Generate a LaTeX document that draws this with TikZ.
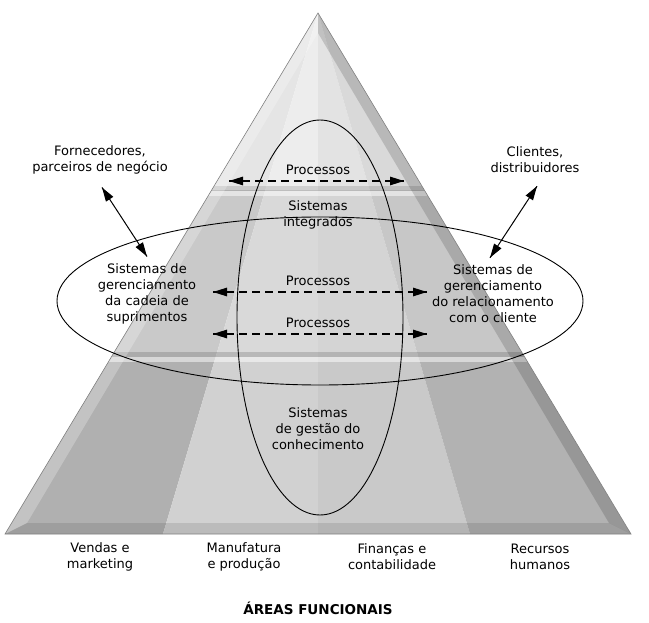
\documentclass[tikz,border=0pt]{standalone}
\usepackage{fontspec}
\setmainfont{DejaVu Sans}
\usetikzlibrary{calc,arrows.meta,decorations.markings}
\tikzset{<->/.style = {decoration={markings, mark=at position 0 with {\arrowreversed{Triangle[length=14pt,width=8.5pt]}}, mark=at position 1 with {\arrow{Triangle[length=14pt,width=8.5pt]}}}, postaction={decorate}}}

\begin{document}
\begin{tikzpicture}[x=1pt,y=-1pt,
    txt/.style={font={\fontsize{13}{16}\selectfont}, align=center, inner sep=1pt},
    title/.style={font={\fontsize{13.5}{15}\selectfont\bfseries}},
    flow/.style={dash pattern=on 8pt off 5pt, line width=1.3pt},
    link/.style={line width=1pt},
    ring/.style={line width=0.9pt},
    ]
    \useasboundingbox (0,0) rectangle (649,623);

    % Pyramid, one band per tier, four areas per band
    \begin{scope}
        \clip (318,13) -- (5,534) -- (631,534) -- cycle;
        \foreach \ya/\yb/\ca/\cb/\cc/\cd in {0/191/10/7/11/15, 191/357/21/15/17/22, 357/540/31/18/21/30}{
            \begin{scope}
                \clip (0,\ya) rectangle (649,\yb);
                \fill[black!\ca] (318,13) -- (5,534) -- (163,534) -- cycle;
                \fill[black!\cb] (318,13) -- (163,534) -- (318,534) -- cycle;
                \fill[black!\cc] (318,13) -- (318,534) -- (470,534) -- cycle;
                \fill[black!\cd] (318,13) -- (470,534) -- (631,534) -- cycle;
            \end{scope}
        }
        % Tier joints
        \fill[black,opacity=.12] (0,186) rectangle (649,191);
        \fill[white,opacity=.5] (0,191) rectangle (649,196);
        \fill[black,opacity=.15] (0,352) rectangle (649,357);
        \fill[white,opacity=.5] (0,357) rectangle (649,362);
    \end{scope}

    % Bevels
    \fill[white,opacity=.25] (318,13) -- (5,534) -- (27,523) -- (318,33) -- cycle;
    \fill[black,opacity=.15] (318,13) -- (631,534) -- (609,523) -- (318,33) -- cycle;
    \fill[black,opacity=.1] (5,534) -- (631,534) -- (609,523) -- (27,523) -- cycle;
    \draw[black!50,line width=0.6pt] (318,13) -- (5,534) -- (631,534) -- cycle;

    % Ellipses
    \draw[ring] (320,317.5) ellipse [x radius=83pt, y radius=197.5pt];
    \draw[ring] (320,301) ellipse [x radius=263pt, y radius=84pt];

    % Labels
    \node[txt] (forn) at (100,160) {Fornecedores,\\parceiros de negócio};
    \node[txt] (cli) at (535,160) {Clientes,\\distribuidores};
    \node[txt] (scm) at (147,294) {Sistemas de\\gerenciamento\\da cadeia de\\suprimentos};
    \node[txt] (crm) at (493,294) {Sistemas de\\gerenciamento\\do relacionamento\\com o cliente};
    \node[txt] (integ) at (318,214.5) {Sistemas\\integrados};
    \node[txt] (kms) at (318,429) {Sistemas\\de gestão do\\conhecimento};

    \node[txt] (vendas) at (100,557) {Vendas e\\marketing};
    \node[txt] (manuf) at (244,557) {Manufatura\\e produção};
    \node[txt] (finan) at (392,557) {Finanças e\\contabilidade};
    \node[txt] (rh) at (540,557) {Recursos\\humanos};
    \node[title] (areas) at (318,608) {ÁREAS FUNCIONAIS};

    % Processes
    \node[txt] (procA) at (318,170) {Processos};
    \node[txt] (procB) at (318,281) {Processos};
    \node[txt] (procC) at (318,323) {Processos};
    \coordinate (aL) at (229,181);
    \coordinate (aR) at (404,181);
    \coordinate (bL) at (213,292);
    \coordinate (bR) at (427,292);
    \coordinate (cL) at (213,334);
    \coordinate (cR) at (427,334);
    \draw[flow,<->] (aL) -- (aR);
    \draw[flow,<->] (bL) -- (bR);
    \draw[flow,<->] (cL) -- (cR);

    % Partners and customers
    \draw[link,<->] ($(forn.south)+(2,12)$) -- ($(scm.north)+(0,-6)$);
    \draw[link,<->] ($(cli.south)+(2,12)$) -- ($(crm.north)+(-3,-6)$);

\end{tikzpicture}
\end{document}
